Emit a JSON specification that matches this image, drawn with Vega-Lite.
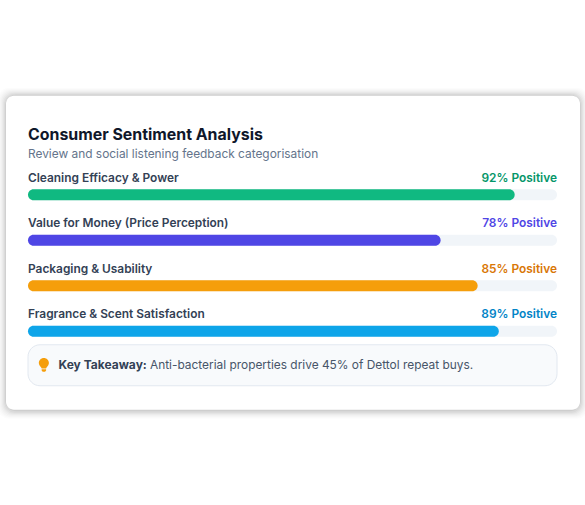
{
"$schema":"https://vega.github.io/schema/vega-lite/v6.json",
"width":529,"height":182,"autosize":"none",
"padding":{"left":28,"top":172,"right":28,"bottom":151},
"background":"#ffffff",
"config":{"view":{"stroke":null},"font":"Inter"},
"title":{"text":"Consumer Sentiment Analysis","subtitle":"Review and social listening feedback categorisation","anchor":"start","frame":"group","font":"Inter","fontSize":15.9,"fontWeight":700,"color":"#0f172a","subtitleFont":"Inter","subtitleFontSize":11.9,"subtitleColor":"#64748b","subtitlePadding":6,"offset":-72},
"datasets":{
"rows":[
{"rank":1,"aspect":"Cleaning Efficacy & Power","positive":92,"label":"92% Positive","lo":0,"hi":100},
{"rank":2,"aspect":"Value for Money (Price Perception)","positive":78,"label":"78% Positive","lo":0,"hi":100},
{"rank":3,"aspect":"Packaging & Usability","positive":85,"label":"85% Positive","lo":0,"hi":100},
{"rank":4,"aspect":"Fragrance & Scent Satisfaction","positive":89,"label":"89% Positive","lo":0,"hi":100}],
"shadow":[
{"x0":-5.7,"x1":105.9,"y0":-1.352,"y1":5.923,"o":0.01},
{"x0":-5.5,"x1":105.7,"y0":-1.330,"y1":5.901,"o":0.013},
{"x0":-5.3,"x1":105.5,"y0":-1.308,"y1":5.879,"o":0.016},
{"x0":-5.1,"x1":105.3,"y0":-1.286,"y1":5.857,"o":0.02},
{"x0":-4.9,"x1":105.1,"y0":-1.264,"y1":5.835,"o":0.025},
{"x0":-4.7,"x1":104.9,"y0":-1.242,"y1":5.813,"o":0.03},
{"x0":-4.5,"x1":104.7,"y0":-1.220,"y1":5.791,"o":0.035},
{"x0":-4.33,"x1":104.52,"y0":-1.198,"y1":5.758,"o":0.05}],
"card":[{"x0":-4.16,"x1":104.35,"y0":-1.176,"y1":5.725}],
"box":[{"x0":0,"x1":100,"y0":4.297,"y1":5.198}],
"bulb":[{"x":3.0,"y":4.736}],
"key":[{"x":5.77,"y":4.736,"t":"Key Takeaway:"}],
"note":[{"x":23.06,"y":4.736,"t":"Anti-bacterial properties drive 45% of Dettol repeat buys."}]
},
"encoding":{
"y":{"type":"quantitative","scale":{"domain":[4.5,0.5],"nice":false,"zero":false,"padding":0},"axis":null}
},
"layer":[
{"data":{"name":"shadow"},"mark":{"type":"rect","cornerRadius":11,"fill":"#000000"},
 "encoding":{"x":{"field":"x0","type":"quantitative","scale":{"domain":[0,100],"nice":false,"zero":false,"padding":0},"axis":null},"x2":{"field":"x1"},
 "y":{"field":"y0"},"y2":{"field":"y1"},
 "opacity":{"field":"o","type":"quantitative","scale":null}}},
{"data":{"name":"card"},"mark":{"type":"rect","cornerRadius":8,"fill":"#ffffff"},
 "encoding":{"x":{"field":"x0","type":"quantitative"},"x2":{"field":"x1"},"y":{"field":"y0"},"y2":{"field":"y1"}}},
{"data":{"name":"box"},"mark":{"type":"rect","cornerRadius":12,"fill":"#f8fafc","stroke":"#e2e8f0","strokeWidth":1},
 "encoding":{"x":{"field":"x0","type":"quantitative"},"x2":{"field":"x1"},"y":{"field":"y0"},"y2":{"field":"y1"}}},
{"data":{"name":"bulb"},"mark":{"type":"point","filled":true,"fill":"#f59e0b","opacity":1,"size":220,"shape":"M0,-0.92C-0.38,-0.92,-0.68,-0.62,-0.68,-0.24C-0.68,0.02,-0.5,0.2,-0.36,0.38L-0.3,0.5L0.3,0.5L0.36,0.38C0.5,0.2,0.68,0.02,0.68,-0.24C0.68,-0.62,0.38,-0.92,0,-0.92ZM-0.3,0.62L0.3,0.62L0.3,0.78L0.16,0.94L-0.16,0.94L-0.3,0.78Z"},
 "encoding":{"x":{"field":"x","type":"quantitative"},"y":{"field":"y"}}},
{"data":{"name":"key"},"mark":{"type":"text","align":"left","baseline":"middle","font":"Inter","fontSize":12,"fontWeight":700,"fill":"#334155"},
 "encoding":{"x":{"field":"x","type":"quantitative"},"y":{"field":"y"},"text":{"field":"t"}}},
{"data":{"name":"note"},"mark":{"type":"text","align":"left","baseline":"middle","font":"Inter","fontSize":11.9,"fill":"#475569"},
 "encoding":{"x":{"field":"x","type":"quantitative"},"y":{"field":"y"},"text":{"field":"t"}}},
{"data":{"name":"rows"},"mark":{"type":"bar","orient":"horizontal","size":11,"cornerRadius":5.5,"fill":"#f1f5f9"},
 "encoding":{"x":{"field":"lo","type":"quantitative"},"x2":{"field":"hi"},"y":{"field":"rank"}}},
{"data":{"name":"rows"},"mark":{"type":"bar","orient":"horizontal","size":11,"cornerRadius":5.5},
 "encoding":{"x":{"field":"lo","type":"quantitative"},"x2":{"field":"positive"},"y":{"field":"rank"},
 "fill":{"field":"aspect","type":"nominal","legend":null,"scale":{"domain":["Cleaning Efficacy & Power","Value for Money (Price Perception)","Packaging & Usability","Fragrance & Scent Satisfaction"],"range":["#10b981","#4f46e5","#f59e0b","#0ea5e9"]}}}},
{"data":{"name":"rows"},"mark":{"type":"text","align":"left","baseline":"middle","dy":-16.8,"font":"Inter","fontSize":11.9,"fontWeight":600,"fill":"#334155"},
 "encoding":{"x":{"field":"lo","type":"quantitative"},"y":{"field":"rank"},"text":{"field":"aspect"}}},
{"data":{"name":"rows"},"mark":{"type":"text","align":"right","baseline":"middle","dy":-16.8,"font":"Inter","fontSize":11.9,"fontWeight":600},
 "encoding":{"x":{"field":"hi","type":"quantitative"},"y":{"field":"rank"},"text":{"field":"label"},
 "color":{"field":"aspect","type":"nominal","legend":null,"scale":{"domain":["Cleaning Efficacy & Power","Value for Money (Price Perception)","Packaging & Usability","Fragrance & Scent Satisfaction"],"range":["#059669","#4f46e5","#d97706","#0284c7"]}}}}
]
}
